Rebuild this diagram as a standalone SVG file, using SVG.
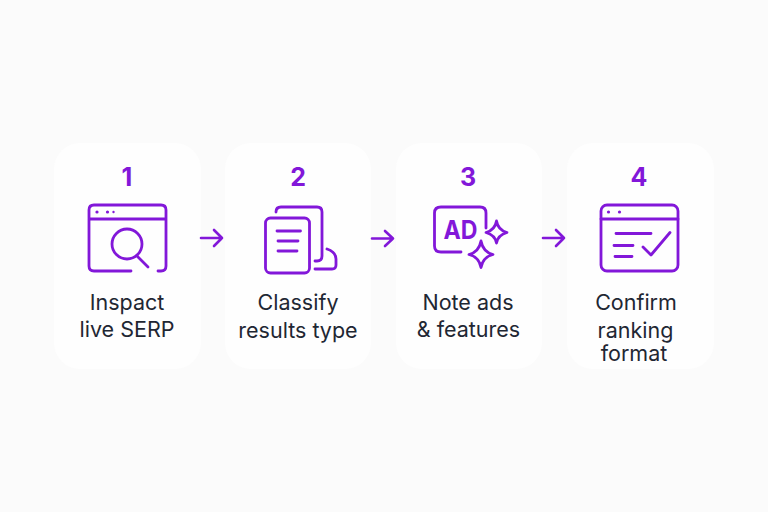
<svg xmlns="http://www.w3.org/2000/svg" width="768" height="512" viewBox="0 0 768 512">
<style>
.card{fill:#fefefe;stroke:none}
.ic{fill:none;stroke:#8217d9;stroke-width:2.8;stroke-linecap:round;stroke-linejoin:round}
.dot{fill:#8217d9}
.num{font-family:"Inter","Liberation Sans",sans-serif;font-size:25px;font-weight:700;fill:#8217d9;text-anchor:middle}
.lab{font-family:"Inter","Liberation Sans",sans-serif;font-size:21.500px;font-weight:400;fill:#1f2733;text-anchor:middle}
.ad{font-family:"Inter","Liberation Sans",sans-serif;font-size:26px;font-weight:700;fill:#8217d9;text-anchor:middle}
.arr{fill:none;stroke:#8217d9;stroke-width:2.6;stroke-linecap:round;stroke-linejoin:round}
</style>
<rect width="768" height="512" fill="#fbfbfb"/>
<g id="node1">
<rect class="card" x="54" y="143" width="147" height="226" rx="26"/>
<text class="num" x="127" y="186">1</text>
<path class="ic" d="M131 271H94Q89 271 89 266V210Q89 205 94 205H161Q166 205 166 210V266Q166 271 161 271H158M89 219H166"/>
<circle class="dot" cx="97" cy="212" r="1.6"/><circle class="dot" cx="107.500" cy="212" r="1.6"/><circle class="dot" cx="113.500" cy="212" r="1.2"/>
<circle class="ic" cx="127" cy="244" r="15"/>
<path class="ic" d="M137 256L148 267"/>
<text class="lab" x="127" y="310">Inspact</text>
<text class="lab" x="127" y="337">live SERP</text>
</g>
<g id="node2">
<rect class="card" x="225" y="143" width="146" height="226" rx="26"/>
<text class="num" x="298" y="186">2</text>
<path class="ic" d="M276 212Q276 207 281 207H317Q322 207 322 212V256Q322 261 317 261H315"/>
<rect class="ic" x="265.500" y="218" width="44" height="55" rx="5"/>
<path class="ic" d="M277 231H300.500M278 241H298M278 251H297"/>
<path class="ic" d="M327 249Q336 252 336 259V265Q336 269 332 269H315"/>
<text class="lab" x="298" y="310">Classify</text>
<text class="lab" x="298" y="338">results type</text>
</g>
<g id="node3">
<rect class="card" x="396" y="143" width="146" height="226" rx="26"/>
<text class="num" x="468" y="186">3</text>
<path class="ic" d="M461 252H441Q434.500 252 434.500 246V213Q434.500 207 441 207H480Q486 207 486 213V228"/>
<text class="ad" x="460.500" y="239" textLength="34" lengthAdjust="spacingAndGlyphs">AD</text>
<path class="ic" d="M496.500 221Q498 230 507 232.500Q498 235 496.500 243Q495 235 486 232.500Q495 230 496.500 221Z"/>
<path class="ic" d="M481 241Q483 252 493 254.500Q483 257 481 267.500Q479 257 469 254.500Q479 252 481 241Z"/>
<text class="lab" x="468" y="310">Note ads</text>
<text class="lab" x="468.500" y="337">&amp; features</text>
</g>
<g id="node4">
<rect class="card" x="567" y="143" width="147" height="226" rx="26"/>
<text class="num" x="639" y="186">4</text>
<rect class="ic" x="601" y="205" width="77" height="66" rx="6"/>
<path class="ic" d="M601 219H678M616 233.500H651M614 245.500H633M615 256.500H632M643 247L651 255L670 232.500"/>
<circle class="dot" cx="608.500" cy="212" r="1.600"/><circle class="dot" cx="619.500" cy="212" r="1.600"/>
<text class="lab" x="636" y="310">Confirm</text>
<text class="lab" x="635.500" y="338">ranking</text>
<text class="lab" x="634" y="361">format</text>
</g>
<g id="connectors">
<path class="arr" d="M201 238H222M214 230L222 238L214 246"/>
<path class="arr" d="M372 238.500H393M385 231L393 238.500L385 246"/>
<path class="arr" d="M543 238H564M556 230L564 238L556 246"/>
</g>
</svg>
